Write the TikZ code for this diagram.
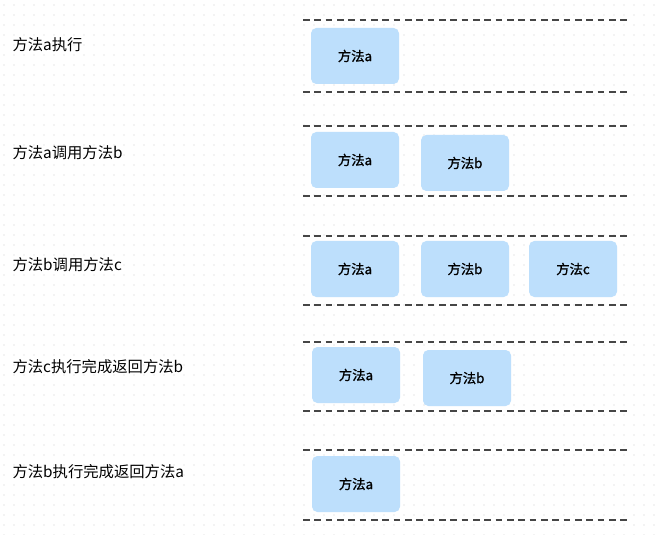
\documentclass[tikz,border=0pt]{standalone}
\usepackage{fontspec}
\newfontfamily\cjk{Noto Sans CJK SC}
\newfontfamily\cjkb[FakeBold=1.2]{Noto Sans CJK SC}

\begin{document}
\begin{tikzpicture}[x=0.75pt, y=-0.75pt, thick]
  \tikzset{
    fangfa/.style={fill={rgb,255:red,189;green,223;blue,252}, rounded corners=4pt,
      minimum width=66pt, minimum height=42pt, inner sep=0pt, font=\cjkb\fontsize{10}{12}\selectfont},
    buzhou/.style={anchor=west, inner sep=0pt, font=\cjk\fontsize{11.5}{13}\selectfont},
    zhan/.style={dash pattern=on 5pt off 3.5pt, line width=1.2pt, draw={rgb,255:red,70;green,70;blue,70}}
  }
  \useasboundingbox (0,0) rectangle (658,535);
  \fill[white] (0,0) rectangle (658,535);
  % 点阵背景
  \foreach \i in {0,...,65} {
    \foreach \j in {0,...,53} {
      \fill[black!20] ({\i*10+4},{\j*10+5}) circle (0.5pt);
    }
  }

  % 第一步：方法a执行
  \coordinate (L1a) at (303, 20);  \coordinate (R1a) at (630, 20);
  \coordinate (L1b) at (303, 92);  \coordinate (R1b) at (630, 92);
  \draw[zhan] (L1a) -- (R1a);
  \draw[zhan] (L1b) -- (R1b);
  \node[buzhou] (s1) at (12, 45) {方法a执行};
  \node[fangfa] (a1) at (355, 56) {方法a};

  % 第二步：方法a调用方法b
  \coordinate (L2a) at (303, 126); \coordinate (R2a) at (630, 126);
  \coordinate (L2b) at (303, 196); \coordinate (R2b) at (630, 196);
  \draw[zhan] (L2a) -- (R2a);
  \draw[zhan] (L2b) -- (R2b);
  \node[buzhou] (s2) at (12, 153) {方法a调用方法b};
  \node[fangfa] (a2) at (355, 160) {方法a};
  \node[fangfa] (b2) at (465, 163) {方法b};

  % 第三步：方法b调用方法c
  \coordinate (L3a) at (303, 236); \coordinate (R3a) at (630, 236);
  \coordinate (L3b) at (303, 305); \coordinate (R3b) at (630, 305);
  \draw[zhan] (L3a) -- (R3a);
  \draw[zhan] (L3b) -- (R3b);
  \node[buzhou] (s3) at (12, 265) {方法b调用方法c};
  \node[fangfa] (a3) at (355, 269) {方法a};
  \node[fangfa] (b3) at (465, 269) {方法b};
  \node[fangfa] (c3) at (573, 269) {方法c};

  % 第四步：方法c返回
  \coordinate (L4a) at (303, 342); \coordinate (R4a) at (630, 342);
  \coordinate (L4b) at (303, 411); \coordinate (R4b) at (630, 411);
  \draw[zhan] (L4a) -- (R4a);
  \draw[zhan] (L4b) -- (R4b);
  \node[buzhou] (s4) at (12, 367) {方法c执行完成返回方法b};
  \node[fangfa] (a4) at (356, 375) {方法a};
  \node[fangfa] (b4) at (467, 378) {方法b};

  % 第五步：方法b返回
  \coordinate (L5a) at (303, 450); \coordinate (R5a) at (630, 450);
  \coordinate (L5b) at (303, 520); \coordinate (R5b) at (630, 520);
  \draw[zhan] (L5a) -- (R5a);
  \draw[zhan] (L5b) -- (R5b);
  \node[buzhou] (s5) at (12, 472) {方法b执行完成返回方法a};
  \node[fangfa] (a5) at (356, 484) {方法a};
\end{tikzpicture}
\end{document}
